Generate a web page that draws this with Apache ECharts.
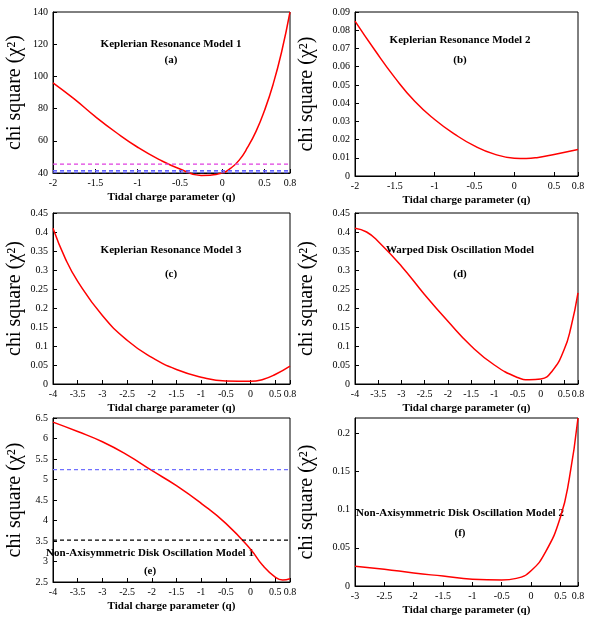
<!DOCTYPE html><html><head><meta charset="utf-8"><script src="https://cdn.jsdelivr.net/npm/echarts@6/dist/echarts.min.js"></script></head><body style="margin:0"><div id="c" style="width:608px;height:617px"></div><script>
const qA=[-2,-1.75,-1.5,-1.25,-1,-0.75,-0.5,-0.25,0,0.1,0.2,0.3,0.4,0.5,0.6,0.7,0.8];
const chiA=[96,86,75,65,56,48.5,42.5,38.5,40,43,48,56,66,79,95,115,140];
const qB=[-2,-1.75,-1.5,-1.25,-1,-0.75,-0.5,-0.25,0,0.15,0.3,0.5,0.8];
const chiB=[0.085,0.069,0.054,0.041,0.031,0.023,0.0165,0.012,0.0098,0.0096,0.0102,0.0118,0.0145];
const qC=[-4,-3.75,-3.5,-3,-2.5,-2,-1.5,-1,-0.5,0,0.25,0.5,0.8];
const chiC=[0.41,0.33,0.27,0.18,0.115,0.07,0.038,0.018,0.008,0.007,0.012,0.025,0.047];
const qD=[-4,-3.75,-3.5,-3,-2.5,-2,-1.5,-1,-0.5,-0.25,0,0.25,0.5,0.65,0.8];
const chiD=[0.41,0.40,0.375,0.31,0.235,0.165,0.10,0.05,0.017,0.011,0.013,0.035,0.09,0.15,0.24];
const qE=[-4,-3.5,-3,-2.5,-2,-1.5,-1,-0.5,0,0.25,0.5,0.65,0.8];
const chiE=[6.4,6.17,5.92,5.6,5.22,4.85,4.42,3.93,3.3,2.9,2.62,2.55,2.58];
const qF=[-3,-2.5,-2,-1.5,-1,-0.5,-0.25,0,0.25,0.5,0.65,0.8];
const chiF=[0.026,0.022,0.017,0.013,0.009,0.008,0.01,0.02,0.045,0.09,0.14,0.22];
const titles=['Keplerian Resonance Model 1','Keplerian Resonance Model 2','Keplerian Resonance Model 3','Warped Disk Oscillation Model','Non-Axisymmetric Disk Oscillation Model 1','Non-Axisymmetric Disk Oscillation Model 2'];
const letters=['(a)','(b)','(c)','(d)','(e)','(f)'];
const refA=[[45.5,'#e040e0'],[41.5,'#6060ff'],[40.5,'#6060ff'],[39.5,'#444']];
const refE=[[5.24,'#7070ff'],[3.52,'#000']];
const grids=[[53,12,237,161],[355,12,223,164],[53,213,237,171],[355,213,223,171],[53,418,237,164],[355,418,223,169]];
const xr=[[-2,0.8,0.5],[-2,0.8,0.5],[-4,0.8,0.5],[-4,0.8,0.5],[-4,0.8,0.5],[-3,0.8,0.5]];
const yr=[[40,140,20],[0,0.09,0.01],[0,0.45,0.05],[0,0.45,0.05],[2.5,6.5,0.5],[0,0.22,0.05]];
const data=[[qA,chiA],[qB,chiB],[qC,chiC],[qD,chiD],[qE,chiE],[qF,chiF]];
const labPos=[[171,44,60],[460,40,60],[171,250,274],[460,250,274],[150,553,571],[460,513,533]];
const F='Liberation Serif';
const opt={animation:false,grid:[],xAxis:[],yAxis:[],series:[],graphic:[]};
grids.forEach((g,i)=>{
 opt.grid.push({left:g[0],top:g[1],width:g[2],height:g[3],show:true,borderColor:'#000',borderWidth:1});
 opt.xAxis.push({type:'value',gridIndex:i,min:xr[i][0],max:xr[i][1],interval:xr[i][2],name:'Tidal charge parameter (q)',nameLocation:'middle',nameGap:19,nameTextStyle:{fontFamily:F,fontWeight:'bold',fontSize:11,color:'#000'},axisLine:{onZero:false,lineStyle:{color:'#000'}},axisTick:{inside:true,length:4,lineStyle:{color:'#000'}},splitLine:{show:false},axisLabel:{fontFamily:F,fontSize:10,color:'#000',margin:5}});
 opt.yAxis.push({type:'value',gridIndex:i,min:yr[i][0],max:yr[i][1],interval:yr[i][2],name:'chi square (χ²)',nameLocation:'middle',nameGap:i%2?38:28,nameTextStyle:{fontFamily:F,fontSize:20,color:'#000'},axisLine:{onZero:false,lineStyle:{color:'#000'}},axisTick:{inside:true,length:4,lineStyle:{color:'#000'}},splitLine:{show:false},axisLabel:{fontFamily:F,fontSize:10,color:'#000',margin:5,showMaxLabel:i!==5}});
 opt.series.push({type:'line',xAxisIndex:i,yAxisIndex:i,smooth:true,clip:false,symbol:'none',data:data[i][0].map((q,k)=>[q,data[i][1][k]]),lineStyle:{color:'#f00',width:1.5},z:3});
 const refs=i===0?refA:i===4?refE:[];
 refs.forEach(r=>opt.series.push({type:'line',xAxisIndex:i,yAxisIndex:i,symbol:'none',data:[[xr[i][0],r[0]],[xr[i][1],r[0]]],lineStyle:{color:r[1],width:1.2,type:[4,3]}}));
 opt.graphic.push({type:'text',x:labPos[i][0],y:labPos[i][1],style:{text:titles[i],font:'bold 11px '+F,fill:'#000',align:'center',verticalAlign:'middle'},silent:true});
 opt.graphic.push({type:'text',x:labPos[i][0],y:labPos[i][2],style:{text:letters[i],font:'bold 11px '+F,fill:'#000',align:'center',verticalAlign:'middle'},silent:true});
});
echarts.init(document.getElementById('c')).setOption(opt);
</script></body></html>
